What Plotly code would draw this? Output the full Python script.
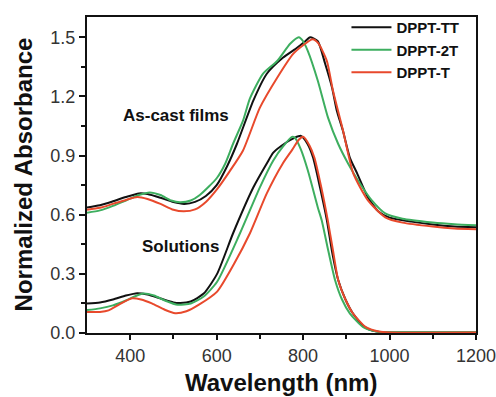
import plotly.graph_objects as go

# ---- data (wavelength in nm, normalized absorbance) ----
film_tt_x = [300, 330, 360, 390, 420, 440, 470, 500, 525, 550, 575, 600, 625, 647, 685, 716, 753, 786, 805, 816, 834, 851, 867, 878, 892, 908, 925, 950, 975, 1000, 1050, 1100, 1150, 1200]
film_tt_y = [0.637, 0.648, 0.668, 0.69, 0.708, 0.705, 0.686, 0.664, 0.655, 0.665, 0.695, 0.75, 0.85, 0.96, 1.18, 1.315, 1.396, 1.447, 1.48, 1.50, 1.48, 1.366, 1.244, 1.128, 1.027, 0.89, 0.81, 0.688, 0.615, 0.585, 0.565, 0.55, 0.54, 0.536]

film_2t_x = [300, 330, 360, 390, 420, 445, 470, 495, 515, 540, 561, 600, 620, 638, 661, 677, 707, 740, 770, 790, 800, 811, 834, 858, 881, 904, 927, 959, 990, 1030, 1100, 1150, 1200]
film_2t_y = [0.61, 0.622, 0.645, 0.672, 0.70, 0.713, 0.70, 0.672, 0.663, 0.672, 0.70, 0.785, 0.86, 0.96, 1.077, 1.19, 1.315, 1.38, 1.467, 1.50, 1.48, 1.43, 1.28, 1.09, 0.96, 0.86, 0.774, 0.673, 0.607, 0.58, 0.561, 0.552, 0.546]

film_t_x = [300, 330, 360, 390, 416, 440, 470, 500, 524, 550, 575, 601, 630, 661, 700, 740, 777, 800, 822, 835, 855, 869, 892, 916, 950, 990, 1030, 1100, 1150, 1200]
film_t_y = [0.625, 0.635, 0.655, 0.675, 0.69, 0.68, 0.655, 0.625, 0.617, 0.627, 0.665, 0.73, 0.82, 0.926, 1.143, 1.295, 1.416, 1.46, 1.49, 1.47, 1.38, 1.23, 1.03, 0.81, 0.673, 0.587, 0.56, 0.54, 0.53, 0.526]

sol_tt_x = [300, 330, 360, 390, 416, 440, 470, 500, 516, 540, 570, 601, 638, 685, 716, 731, 760, 780, 795, 810, 823, 839, 855, 868, 881, 898, 915, 940, 960, 985, 1050, 1200]
sol_tt_y = [0.15, 0.155, 0.17, 0.19, 0.202, 0.195, 0.175, 0.155, 0.152, 0.16, 0.2, 0.30, 0.506, 0.739, 0.86, 0.915, 0.965, 0.99, 1.0, 0.96, 0.89, 0.739, 0.572, 0.40, 0.27, 0.17, 0.10, 0.035, 0.012, 0.004, 0.002, 0.002]

sol_2t_x = [300, 330, 360, 390, 410, 430, 455, 480, 510, 540, 570, 601, 654, 700, 731, 755, 774, 781, 795, 811, 834, 843, 858, 874, 890, 908, 939, 970, 1000, 1200]
sol_2t_y = [0.116, 0.125, 0.14, 0.165, 0.185, 0.20, 0.19, 0.165, 0.143, 0.15, 0.185, 0.26, 0.506, 0.739, 0.875, 0.95, 0.995, 0.99, 0.93, 0.824, 0.637, 0.572, 0.42, 0.268, 0.17, 0.10, 0.03, 0.008, 0.004, 0.004]

sol_t_x = [300, 330, 350, 375, 404, 425, 450, 480, 504, 530, 560, 601, 640, 677, 716, 753, 775, 790, 800, 815, 826, 842, 857, 869, 881, 898, 915, 945, 975, 1000, 1200]
sol_t_y = [0.106, 0.107, 0.115, 0.145, 0.176, 0.17, 0.15, 0.118, 0.10, 0.11, 0.145, 0.21, 0.35, 0.506, 0.708, 0.86, 0.93, 0.98, 0.995, 0.95, 0.89, 0.739, 0.572, 0.42, 0.27, 0.17, 0.10, 0.03, 0.008, 0.003, 0.002]

names = ["DPPT-TT", "DPPT-2T", "DPPT-T"]
colors = ["#111111", "#3dae5f", "#e8492c"]

x_ticks = [400, 600, 800, 1000, 1200]
y_ticks = [0.0, 0.3, 0.6, 0.9, 1.2, 1.5]

FONT = "Liberation Sans, Arial, Helvetica, sans-serif"

fig = go.Figure()
series = [
    (film_tt_x, film_tt_y, sol_tt_x, sol_tt_y),
    (film_2t_x, film_2t_y, sol_2t_x, sol_2t_y),
    (film_t_x, film_t_y, sol_t_x, sol_t_y),
]
for (fx, fy, sx, sy), nm, col in zip(series, names, colors):
    fig.add_trace(go.Scatter(x=fx, y=fy, mode="lines", name=nm,
                             line=dict(color=col, width=2, shape="spline", smoothing=0.6),
                             legendgroup=nm, showlegend=True))
    fig.add_trace(go.Scatter(x=sx, y=sy, mode="lines", name=nm,
                             line=dict(color=col, width=2, shape="spline", smoothing=0.6),
                             legendgroup=nm, showlegend=False))

fig.add_annotation(x=506, y=1.103, text="<b>As-cast films</b>", showarrow=False,
                   font=dict(family=FONT, size=17, color="#111"))
fig.add_annotation(x=517, y=0.44, text="<b>Solutions</b>", showarrow=False,
                   font=dict(family=FONT, size=17, color="#111"))

# axis titles
fig.add_annotation(xref="paper", yref="paper", x=0.498, y=-0.158, xanchor="center", yanchor="middle",
                   text="<b>Wavelength (nm)</b>", showarrow=False,
                   font=dict(family=FONT, size=24, color="#111"))
fig.add_annotation(xref="paper", yref="paper", x=-0.1645, y=0.502, xanchor="center", yanchor="middle",
                   text="<b>Normalized Absorbance</b>", showarrow=False, textangle=-90,
                   font=dict(family=FONT, size=24, color="#111"))

fig.update_layout(
    width=496, height=397,
    margin=dict(l=87, r=20, t=16, b=64),
    paper_bgcolor="white", plot_bgcolor="white",
    font=dict(family=FONT, color="#222"),
    showlegend=True,
    legend=dict(x=0.667, y=1.016, xanchor="left", yanchor="top",
                bgcolor="rgba(0,0,0,0)", borderwidth=0,
                font=dict(family=FONT, size=15, color="#111", weight="bold"),
                tracegroupgap=0, itemwidth=40),
)
fig.update_xaxes(
    range=[300, 1200], tickvals=x_ticks, ticktext=[str(v) for v in x_ticks],
    ticks="outside", ticklen=5, tickwidth=2, tickcolor="#111",
    minor=dict(tickvals=[500, 700, 900, 1100], ticks="outside", ticklen=4, tickwidth=2, tickcolor="#111"),
    showline=True, linewidth=2, linecolor="#111", mirror=True,
    showgrid=False, zeroline=False, automargin=False, ticklabeloverflow="allow",
    tickfont=dict(size=18, color="#333", family=FONT),
)
fig.update_yaxes(
    range=[0, 1.603], tickvals=y_ticks, ticktext=["%.1f" % v for v in y_ticks],
    ticks="outside", ticklen=6, tickwidth=2, tickcolor="#111",
    minor=dict(tickvals=[0.15, 0.45, 0.75, 1.05, 1.35], ticks="outside", ticklen=4, tickwidth=2, tickcolor="#111"),
    showline=True, linewidth=2, linecolor="#111", mirror=True,
    showgrid=False, zeroline=False, automargin=False, ticklabeloverflow="allow",
    tickfont=dict(size=18, color="#333", family=FONT),
)

fig.write_html("out.html")
